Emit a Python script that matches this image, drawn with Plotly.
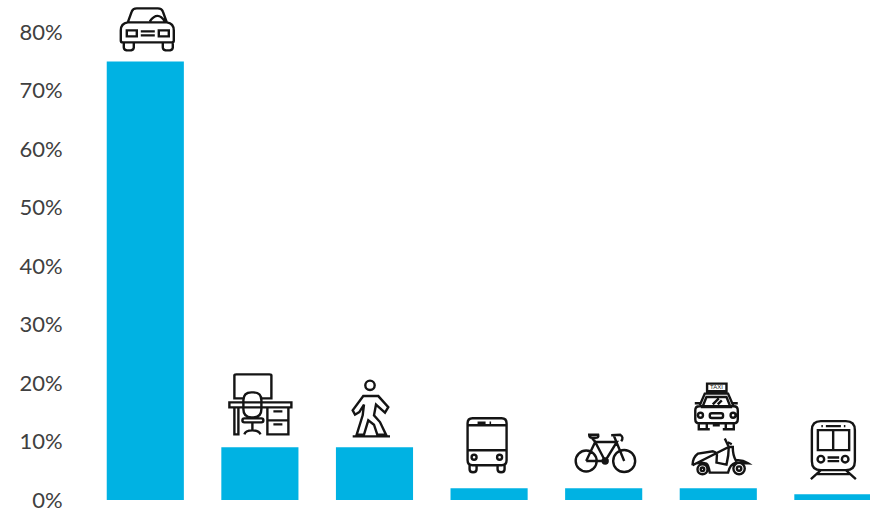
import plotly.graph_objects as go

categories = ["Car", "Home office", "Walking", "Bus", "Bicycle", "Taxi / scooter", "Train"]
shares = [75, 9, 9, 2, 2, 2, 1]
tick_values = [0, 10, 20, 30, 40, 50, 60, 70, 80]
tick_labels = ["0%", "10%", "20%", "30%", "40%", "50%", "60%", "70%", "80%"]

BAR_COLOR = "#00B2E3"
INK = "#141414"
TEXT = "#404040"


def circle(cx, cy, r):
    k = 0.5523 * r
    return (f"M {cx - r} {cy} C {cx - r} {cy - k} {cx - k} {cy - r} {cx} {cy - r} "
            f"C {cx + k} {cy - r} {cx + r} {cy - k} {cx + r} {cy} "
            f"C {cx + r} {cy + k} {cx + k} {cy + r} {cx} {cy + r} "
            f"C {cx - k} {cy + r} {cx - r} {cy + k} {cx - r} {cy} Z ")


def rrect(x0, y0, x1, y1, r=0):
    return (f"M {x0 + r} {y0} L {x1 - r} {y0} Q {x1} {y0} {x1} {y0 + r} "
            f"L {x1} {y1 - r} Q {x1} {y1} {x1 - r} {y1} L {x0 + r} {y1} "
            f"Q {x0} {y1} {x0} {y1 - r} L {x0} {y0 + r} Q {x0} {y0} {x0 + r} {y0} Z ")


# Pictograms in pixels, y pointing down from the top-left of each icon.
CAR = (
    "M 8 15 L 12 4 Q 13 1 17 1 L 38 1 Q 42 1 43 4 L 47 15 "
    "M 8 15 L 47 15 Q 54 16 54 23 L 54 33 Q 54 35 52 35 L 3 35 Q 1 35 1 33 L 1 23 Q 1 16 8 15 Z "
    "M 30 14 Q 38 3 45 14 "
    + rrect(7, 23, 17, 29) + rrect(39, 23, 49, 29)
    + "M 21 24 L 35 24 M 21 28 L 35 28 "
    "M 4 35 L 4 40 Q 4 43 9 43 Q 14 43 14 40 L 14 35 "
    "M 43 35 L 43 40 Q 43 43 48 43 Q 53 43 53 40 L 53 35 "
)

DESK = (
    "M 14 24 L 5 24 L 5 1 Q 5 0 7 0 L 40 0 Q 42 0 42 1 L 42 24 L 33 24 "
    + rrect(0, 28, 62, 33)
    + "M 5 33 L 5 60 L 9 60 L 9 33 "
    + rrect(38, 33, 59, 60)
    + "M 38 46 L 59 46 M 44 37 L 53 37 M 44 50 L 53 50 "
    + rrect(14, 18, 32, 43, 8)
    + rrect(13, 44, 34, 48, 2)
    + "M 23 48 L 23 56 M 15 60 Q 16 56 23 56 Q 30 56 31 60 "
)

WALKER = (
    "M 11.3 16.7 L 26.3 16.7 L 36.3 27.7 L 33 33.3 L 24 25.3 L 22 36 L 28 42.7 "
    "L 34 55.3 L 25.3 55.3 L 22 45.3 L 16.3 41 L 12 55.3 L 4.7 55.3 L 10.7 36 "
    "L 12 25.3 L 7.3 32.7 L 3 35.3 L 0.7 31 Z "
    + circle(18, 6, 4.7)
    + "M 0.7 57 L 38 57 "
)

BUS = (
    rrect(1, 0, 40, 47, 5)
    + "M 1 7 L 40 7 M 1 32 L 40 32 M 11 4.5 L 19 4.5 M 23 4.5 L 24.5 4.5 "
    + circle(7.5, 39, 2.5) + circle(33, 39, 2.5)
    + "M 3 47 L 3 51 Q 3 54 6.5 54 Q 10 54 10 51 L 10 47 "
    "M 31 47 L 31 51 Q 31 54 34.5 54 Q 38 54 38 51 L 38 47 "
)

BICYCLE = (
    circle(11, 26.7, 10.5) + circle(49, 26.7, 11) + circle(30, 26.7, 2.5)
    + "M 11 26.7 L 30 26.7 L 20 7.7 L 11 26.7 M 20 7.7 L 41.7 7.7 L 30 26.7 "
    "M 38.5 1 L 49 26.7 M 17 4 L 21 9 "
    "M 14 0.5 L 23 0.5 Q 24 3.5 20 3.5 L 17 3.5 Q 14 3.5 14 0.5 Z "
    "M 36 1 L 45 0.5 Q 49 3 46 7 "
)

SCOOTER = (
    "M 0.7 28 Q 1 20 6.3 16.3 L 21.3 14 Q 26 15 25 20 L 24.7 25.3 L 34.7 27.3 "
    "Q 37 18 37 9.7 L 33 1.3 M 37 9.7 L 41 9.7 Q 41 18 44 23 Q 50 22 56.3 26 "
    "L 44 25.3 Q 38 27 36.3 35.3 L 18 35.3 Q 17 28 14.7 26.3 Q 6 24 0.7 28 Z "
    "M 36 5 L 40 7 "
    + circle(47.3, 31.3, 5.7) + circle(47.3, 31.3, 2.2)
    + circle(10.7, 32, 5) + circle(10.7, 32, 1.8)
)

TAXI = (
    rrect(12.3, 0.3, 31.7, 8)
    + "M 15 8 L 15 10.3 M 29 8 L 29 10.3 "
    "M 5 22 L 10 10.3 L 33.3 10.3 L 38.3 22 "
    "M 7.7 23.7 L 11.7 13.7 L 31.7 13.7 L 35.7 23.7 Z "
    "M 18 21 L 24 15 M 23 21 L 27 17 "
    + rrect(0.5, 23, 43, 40, 4)
    + circle(5.7, 32, 2.5) + circle(38.3, 32, 2.5)
    + rrect(15, 30, 28.3, 34.7, 2)
    + "M 4 40 L 4 46 L 15 46 M 12 40 L 12 46 M 31 40 L 31 46 M 39 40 L 39 46 L 28 46 "
    "M 18 42 L 25 42 "
    "M 0 20 L 5 20 M 38 20 L 43 20 "
)

TRAIN = (
    rrect(3, 0, 46, 49, 9)
    + rrect(9, 9, 40.3, 29)
    + "M 24.3 9 L 24.3 29 "
    + circle(12, 38, 3.3) + circle(36.3, 38, 3.3)
    + "M 18.7 36.3 L 30.3 36.3 M 18.7 40 L 30.3 40 "
    "M 17 5 L 32 5 M 12.5 5 L 14 5 M 35 5 L 36.5 5 "
    "M 12 49 L 2 58 M 37 49 L 47 58 M 7 53 L 42 53 "
)

# icon, index of its bar, x offset from bar centre, clearance above bar, icon height
placements = [
    (CAR, 0, -25.5, 11, 43),
    (DESK, 1, -30.5, 13, 60),
    (WALKER, 2, -22.5, 11, 57),
    (BUS, 3, -22.5, 16, 54),
    (BICYCLE, 4, -28.5, 16, 38),
    (SCOOTER, 5, -26.5, 14, 37),
    (TAXI, 5, -23.5, 59, 46),
    (TRAIN, 6, -24, 15, 58),
]


def anchored_path(path, dx, gap, height):
    """Shift a y-down icon path into pixel offsets from its bar's top centre."""
    out, is_x = [], True
    for token in path.split():
        if token.isalpha():
            out.append(token)
            is_x = True
        elif is_x:
            out.append(f"{float(token) + dx:.1f}")
            is_x = False
        else:
            out.append(f"{gap + height - float(token):.1f}")
            is_x = True
    return " ".join(out)


positions = list(range(len(categories)))

fig = go.Figure(
    go.Bar(
        x=positions,
        y=shares,
        width=0.673,
        marker=dict(color=BAR_COLOR, line=dict(width=0)),
        hovertext=categories,
        hoverinfo="text+y",
    )
)

for path, idx, dx, gap, height in placements:
    fig.add_shape(
        type="path",
        xref="x",
        yref="y",
        xsizemode="pixel",
        ysizemode="pixel",
        xanchor=positions[idx],
        yanchor=shares[idx],
        path=anchored_path(path, dx, gap, height),
        line=dict(color=INK, width=2.4),
        fillcolor="rgba(0,0,0,0)",
        layer="above",
    )

fig.add_annotation(
    x=positions[5],
    y=shares[5],
    xref="x",
    yref="y",
    text="TAXI",
    showarrow=False,
    xshift=-1.5,
    yshift=101,
    font=dict(family="Liberation Sans", size=6, color=INK),
)

fig.update_layout(
    width=870,
    height=508,
    margin=dict(l=88, r=0, t=0, b=8),
    paper_bgcolor="white",
    plot_bgcolor="white",
    showlegend=False,
    xaxis=dict(range=[-0.5, 6.324], visible=False, fixedrange=True),
    yaxis=dict(
        range=[0, 85.5],
        tickvals=tick_values,
        ticktext=tick_labels,
        showgrid=False,
        zeroline=False,
        showline=False,
        ticks="outside",
        ticklen=20,
        tickcolor="rgba(0,0,0,0)",
        ticklabeloverflow="allow",
        tickfont=dict(family="Lato", size=22, color=TEXT),
        fixedrange=True,
        automargin=False,
    ),
)

fig.write_html("out.html", config={"displayModeBar": False})
